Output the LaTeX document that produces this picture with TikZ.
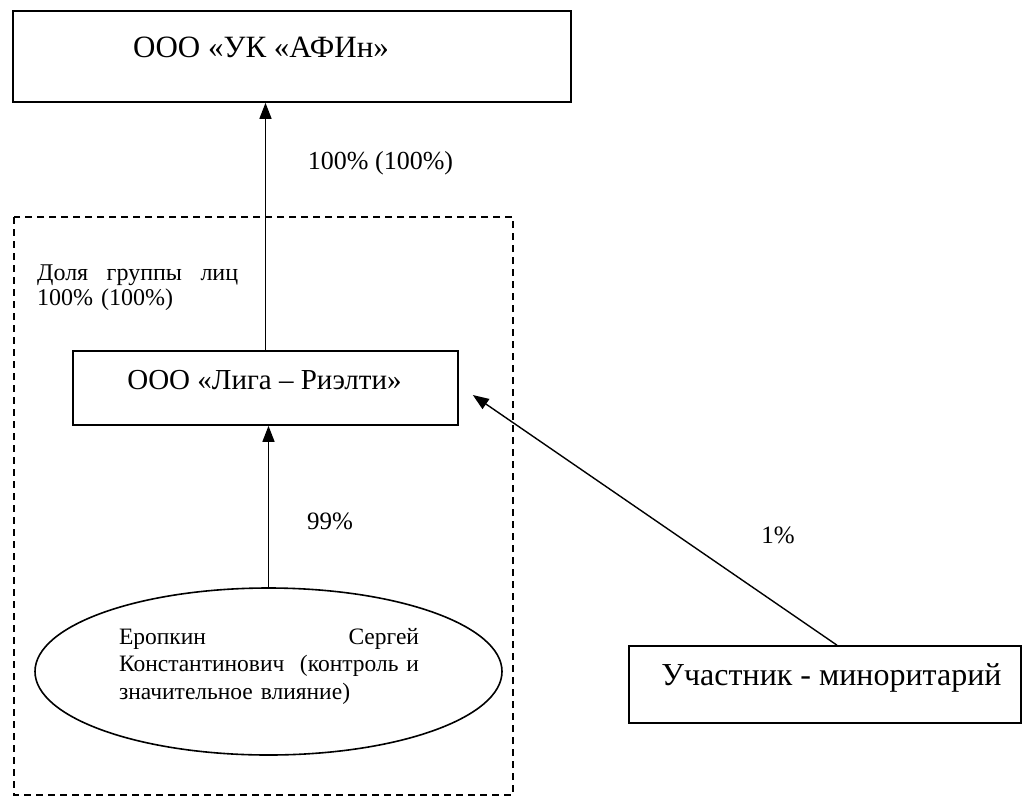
\documentclass[tikz,border=0pt]{standalone}
\usepackage{fontspec}
\setmainfont{Liberation Serif}
\usetikzlibrary{shapes.geometric,arrows.meta}

\begin{document}
\begin{tikzpicture}[x=1pt,y=-1pt,
	box/.style={draw, line width=1.6pt, inner sep=0pt},
	arr/.style={line width=1.4pt, -{Triangle[length=16pt,width=12pt]}},
	lbl/.style={inner sep=0pt, font=\fontsize{25}{28}\selectfont}]
				%%%%% START %%%%%
				\useasboundingbox (0,0) rectangle (1025,798);

				\draw[line width=1.3pt, dash pattern=on 7pt off 5pt] (14,217) rectangle (513,795);

				\node[box, minimum width=558pt, minimum height=91pt] (uk) at (292,56.5) {};
				\node[lbl, font=\fontsize{31}{36}\selectfont] (uktext) at (261,47) {ООО «УК «АФИн»};

				\node[box, minimum width=385pt, minimum height=74pt] (liga) at (265.5,388) {};
				\node[lbl, font=\fontsize{29}{34}\selectfont] (ligatext) at (264.5,380) {ООО «Лига – Риэлти»};

				\node[box, ellipse, minimum width=467pt, minimum height=167pt] (person) at (268.5,671.5) {};
				\node[lbl, font=\fontsize{23.5}{27.5}\selectfont, text width=300pt, align=left] (persontext) at (269,666)
					{Еропкин\hfill Сергей\\Константинович\hfill(контроль~и\\значительное влияние)};

				\node[box, minimum width=392pt, minimum height=77pt] (minor) at (825,684.5) {};
				\node[lbl, font=\fontsize{32}{36}\selectfont] (minortext) at (831.5,678) {Участник - миноритарий};

				\node[lbl, font=\fontsize{26}{30}\selectfont] (toplbl) at (380.5,163) {100\% (100\%)};
				\node[lbl, font=\fontsize{24}{25}\selectfont, text width=201pt, align=left, anchor=west] (grouplbl) at (37,288)
					{Доля\hfill группы\hfill лиц\\100\% (100\%)};
				\node[lbl] (mainlbl) at (330,521) {99\%};
				\node[lbl] (minorlbl) at (778,535) {1\%};

				\draw[arr] (liga.north) -- (liga.north |- uk.south);
				\draw[arr] (person.north) -- (person.north |- liga.south);
				\coordinate (minfoot) at ([xshift=12pt]minor.north);
				\coordinate (ligatip) at ([xshift=14pt,yshift=-7pt]liga.east);
				\draw[arr] (minfoot) -- (ligatip);
				%%%%% END %%%%%
\end{tikzpicture}
\end{document}
